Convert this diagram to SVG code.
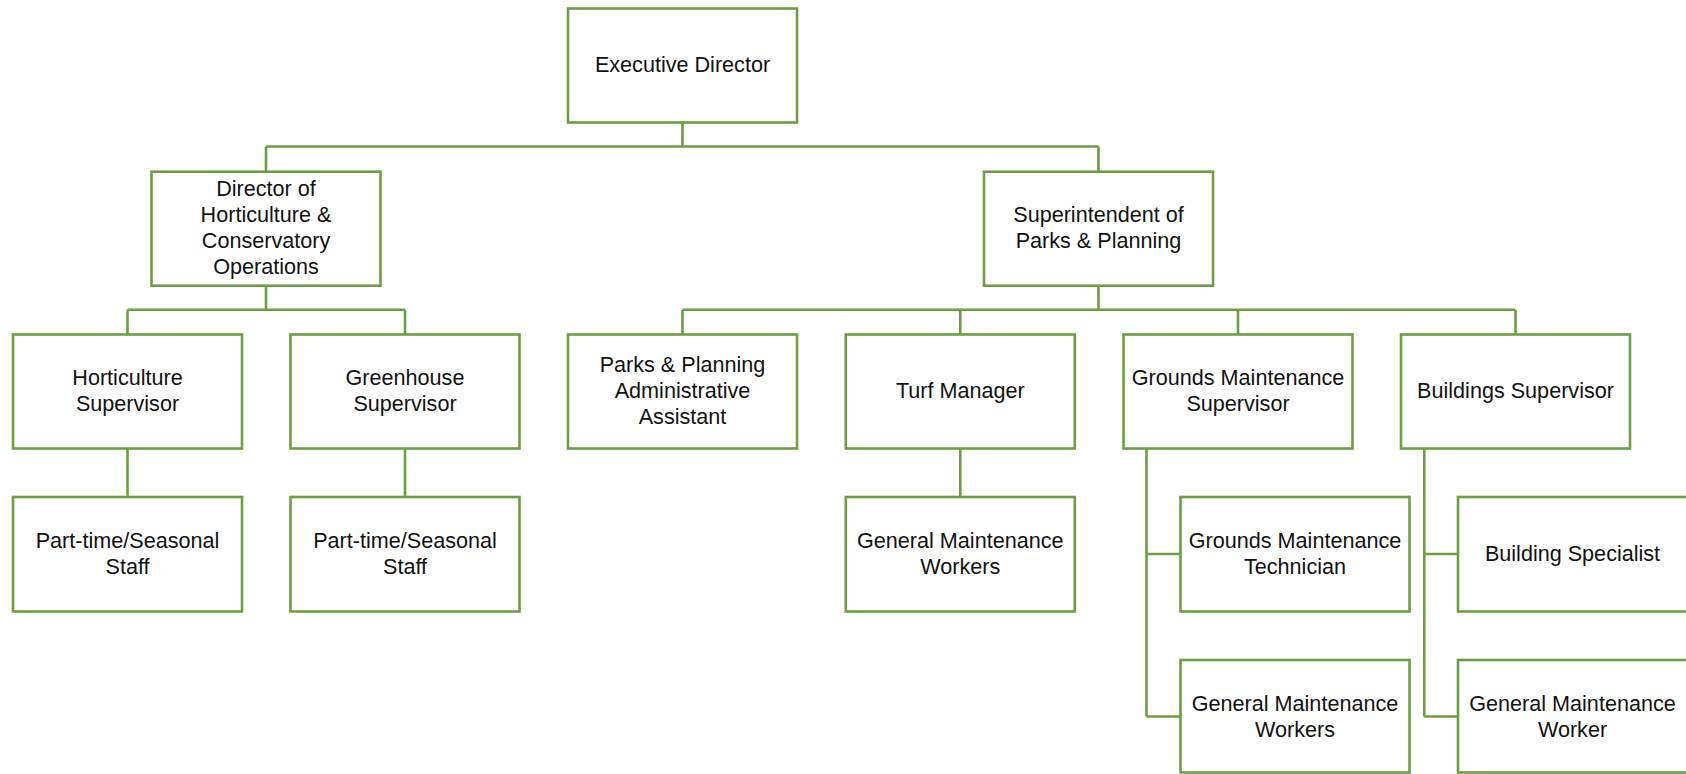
<svg xmlns="http://www.w3.org/2000/svg" width="1686" height="774" viewBox="0 0 1686 774">
<style>
.box{fill:#fff;stroke:#6AA041;stroke-width:2.6}
.conn{fill:none;stroke:#6AA041;stroke-width:2.6}
text{font-family:"Liberation Sans",Arial,sans-serif;font-size:21.6px;fill:#111;text-anchor:middle}
</style>
<rect width="1686" height="774" fill="#fff"/>
<g id="connectors">
<path class="conn" d="M682.5 122.5V146.5M266 146.5H1098.5M266 146.5V171.7M1098.5 146.5V171.7"/>
<path class="conn" d="M266 285.7V309.7M127.5 309.7H405M127.5 309.7V334.5M405 309.7V334.5"/>
<path class="conn" d="M1098.5 285.7V309.7M682.5 309.7H1515.5M682.5 309.7V334.5M960.3 309.7V334.5M1238 309.7V334.5M1515.5 309.7V334.5"/>
<path class="conn" d="M127.5 448.5V497M405 448.5V497M960.3 448.5V497"/>
<path class="conn" d="M1146.5 448.5V716.5M1146.5 554H1180.5M1146.5 716.5H1180.5"/>
<path class="conn" d="M1424.3 448.5V716.5M1424.3 554H1458M1424.3 716.5H1458"/>
</g>
<g id="exec"><rect class="box" x="568" y="8.5" width="229" height="114"/><text x="682.5" y="72">Executive Director</text></g>
<g id="dir-hort"><rect class="box" x="151.5" y="171.7" width="229" height="114"/><text x="266" y="196">Director of</text><text x="266" y="222">Horticulture &amp;</text><text x="266" y="248">Conservatory</text><text x="266" y="274">Operations</text></g>
<g id="sup-parks"><rect class="box" x="984" y="171.7" width="229" height="114"/><text x="1098.5" y="222">Superintendent of</text><text x="1098.5" y="248">Parks &amp; Planning</text></g>
<g id="hort-sup"><rect class="box" x="13" y="334.5" width="229" height="114"/><text x="127.5" y="385">Horticulture</text><text x="127.5" y="411">Supervisor</text></g>
<g id="green-sup"><rect class="box" x="290.5" y="334.5" width="229" height="114"/><text x="405" y="385">Greenhouse</text><text x="405" y="411">Supervisor</text></g>
<g id="admin"><rect class="box" x="568" y="334.5" width="229" height="114"/><text x="682.5" y="372">Parks &amp; Planning</text><text x="682.5" y="398">Administrative</text><text x="682.5" y="424">Assistant</text></g>
<g id="turf"><rect class="box" x="845.8" y="334.5" width="229" height="114"/><text x="960.3" y="398">Turf Manager</text></g>
<g id="grounds-sup"><rect class="box" x="1123.5" y="334.5" width="229" height="114"/><text x="1238" y="385">Grounds Maintenance</text><text x="1238" y="411">Supervisor</text></g>
<g id="bldg-sup"><rect class="box" x="1401" y="334.5" width="229" height="114"/><text x="1515.5" y="398">Buildings Supervisor</text></g>
<g id="pt1"><rect class="box" x="13" y="497" width="229" height="114.5"/><text x="127.5" y="548">Part-time/Seasonal</text><text x="127.5" y="574">Staff</text></g>
<g id="pt2"><rect class="box" x="290.5" y="497" width="229" height="114.5"/><text x="405" y="548">Part-time/Seasonal</text><text x="405" y="574">Staff</text></g>
<g id="turf-workers"><rect class="box" x="845.8" y="497" width="229" height="114.5"/><text x="960.3" y="548">General Maintenance</text><text x="960.3" y="574">Workers</text></g>
<g id="grounds-tech"><rect class="box" x="1180.5" y="497" width="229" height="114.5"/><text x="1295" y="548">Grounds Maintenance</text><text x="1295" y="574">Technician</text></g>
<g id="bldg-spec"><rect class="box" x="1458" y="497" width="234" height="114.5"/><text x="1572.5" y="561">Building Specialist</text></g>
<g id="grounds-workers"><rect class="box" x="1180.5" y="660" width="229" height="112.5"/><text x="1295" y="711">General Maintenance</text><text x="1295" y="737">Workers</text></g>
<g id="bldg-worker"><rect class="box" x="1458" y="660" width="234" height="112.5"/><text x="1572.5" y="711">General Maintenance</text><text x="1572.5" y="737">Worker</text></g>
</svg>
